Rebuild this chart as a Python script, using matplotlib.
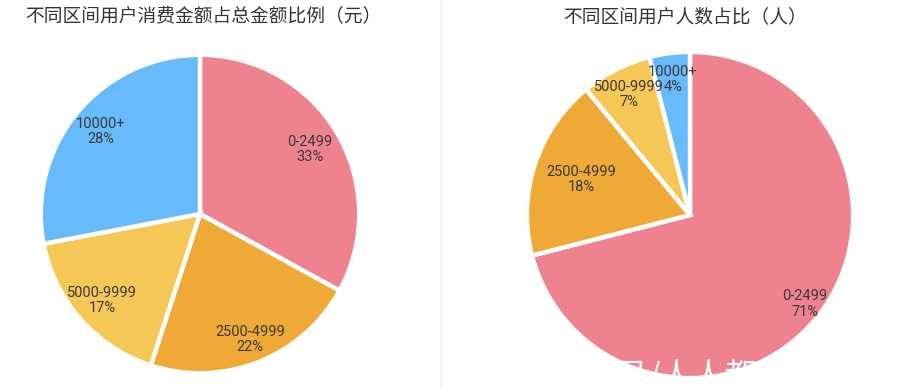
import matplotlib
matplotlib.use("Agg")
import matplotlib.pyplot as plt
import numpy as np

plt.rcParams['font.family'] = ['Noto Sans CJK SC', 'DejaVu Sans']

# data
categories = ["0-2499", "2500-4999", "5000-9999", "10000+"]
amount_share = [33, 22, 17, 28]
user_share = [71, 18, 7, 4]
title_left = "不同区间用户消费金额占总金额比例（元）"
title_right = "不同区间用户人数占比（人）"
watermark = "头条号/人人都是产品经理"

colors = ["#EE838F", "#EEA936", "#F5C757", "#68BBFB"]
label_r_left = [0.80, 0.85, 0.82, 0.81]
label_r_right = [0.89, 0.70, 0.83, 0.84]

W, H = 897, 389
fig = plt.figure(figsize=(W / 100, H / 100), dpi=100)


def px_axes(cx, cy, r):
    return fig.add_axes([(cx - r) / W, (H - cy - r) / H, 2 * r / W, 2 * r / H])


def draw_pie(ax, values, label_r):
    wedges, _ = ax.pie(values, colors=colors, startangle=90, counterclock=False,
                       radius=1.0, wedgeprops=dict(edgecolor="white", linewidth=3.2))
    for w, name, v, lr in zip(wedges, categories, values, label_r):
        mid = np.deg2rad((w.theta1 + w.theta2) / 2)
        ax.text(lr * np.cos(mid), lr * np.sin(mid), f"{name}\n{v}%",
                ha="center", va="center", fontsize=10.5, color="#3a3a3a",
                family=["Roboto", "DejaVu Sans"], linespacing=1.1)
    ax.set_xlim(-1.03, 1.03)
    ax.set_ylim(-1.03, 1.03)
    ax.set_aspect("equal")
    ax.axis("off")


ax1 = px_axes(200, 214, 164)
draw_pie(ax1, amount_share, label_r_left)

ax2 = px_axes(690, 215, 168)
draw_pie(ax2, user_share, label_r_right)

fig.text(203 / W, 1 - 17 / H, title_left, ha="center", va="center",
         fontsize=13.5, color="#333333")
fig.text(685 / W, 1 - 17 / H, title_right, ha="center", va="center",
         fontsize=13.5, color="#333333")

# divider
fig.add_artist(plt.Line2D([441 / W, 441 / W], [0, 1], color="#EEEEEE", linewidth=1))

# watermark
fig.text(552 / W, 1 - 376 / H, watermark, ha="left", va="center",
         fontsize=23, color="white", zorder=10)

fig.savefig("out.png", dpi=100)
